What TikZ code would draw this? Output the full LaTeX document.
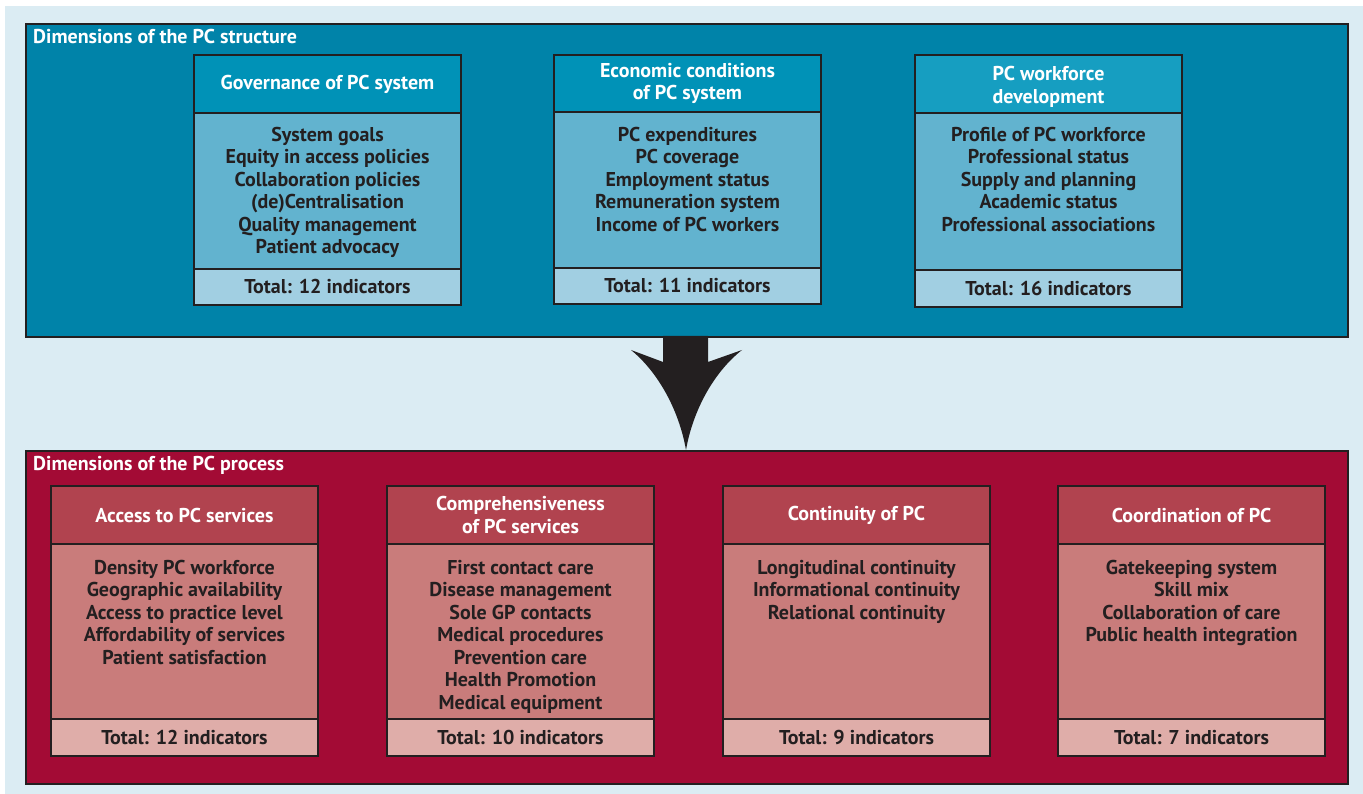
\documentclass[tikz,border=0pt]{standalone}
\usepackage{fontspec}
\setmainfont{PT Sans}
\definecolor{bgc}{HTML}{DBECF3}
\definecolor{edgec}{HTML}{231F20}
\definecolor{tout}{HTML}{0083A9}
\definecolor{thead}{HTML}{0092B7}
\definecolor{theadb}{HTML}{169EC1}
\definecolor{tbody}{HTML}{62B3CF}
\definecolor{tfoot}{HTML}{A1CFE2}
\definecolor{rout}{HTML}{A30B35}
\definecolor{rhead}{HTML}{B1434F}
\definecolor{rbody}{HTML}{C97C7B}
\definecolor{rfoot}{HTML}{DFADA9}
\tikzset{
  txtfont/.style={font=\fontsize{20}{22.5}\selectfont\bfseries},
  bx/.style={draw=edgec, line width=2pt, minimum width=267, anchor=north west,
             inner sep=0pt, align=center, txtfont},
  thd/.style={bx, fill=thead, text=white},
  tbd/.style={bx, fill=tbody},
  tft/.style={bx, fill=tfoot, text=edgec},
  rhd/.style={bx, fill=rhead, text=white},
  rbd/.style={bx, fill=rbody},
  rft/.style={bx, fill=rfoot, text=edgec},
  items/.style={anchor=north, inner sep=0pt, align=center, text=edgec, txtfont},
  hdtext/.style={inner sep=0pt, align=center, text=white, txtfont},
  outerbox/.style={draw=edgec, line width=2pt, anchor=north west, inner sep=0pt},
  title/.style={anchor=west, inner sep=0pt, text=white, txtfont}
}
\begin{document}
\begin{tikzpicture}[x=1pt,y=-1pt]
\useasboundingbox (0,0) rectangle (1363,794);
\fill[bgc] (5,6) rectangle (1363,794);

% ---------- structure ----------
\node[outerbox, fill=tout, minimum width=1322, minimum height=313] (struct) at (25,23) {};
\node[title] (structT) at (33,37) {Dimensions of the PC structure};

\node[thd, minimum height=58] (s1h) at (193,54) {Governance of PC system};
\node[tbd, minimum height=156] (s1b) at (193,112) {};
\node[tft, minimum height=36] (s1f) at (193,268) {Total: 12 indicators};
\node[items] (s1t) at ([yshift=-15]s1b.north) {System goals\\Equity in access policies\\Collaboration policies\\(de)Centralisation\\Quality management\\Patient advocacy};

\node[thd, minimum height=57] (s2h) at (553,54) {Economic conditions\\of PC system};
\node[tbd, minimum height=156] (s2b) at (553,111) {};
\node[tft, minimum height=36] (s2f) at (553,267) {Total: 11 indicators};
\node[items] (s2t) at ([yshift=-16]s2b.north) {PC expenditures\\PC coverage\\Employment status\\Remuneration system\\Income of PC workers};

\node[thd, fill=theadb, minimum height=58] (s3h) at (914,54) {};
\node[hdtext] (s3ht) at ([yshift=-3]s3h.center) {PC workforce\\development};
\node[tbd, minimum height=157] (s3b) at (914,112) {};
\node[tft, minimum height=37] (s3f) at (914,269) {Total: 16 indicators};
\node[items] (s3t) at ([yshift=-15]s3b.north) {Profile of PC workforce\\Professional status\\Supply and planning\\Academic status\\Professional associations};

% ---------- process ----------
\node[outerbox, fill=rout, minimum width=1322, minimum height=333] (proc) at (25,450) {};
\node[title] (procT) at (33,465) {Dimensions of the PC process};

\node[rhd, minimum height=58] (p1h) at (50,485) {Access to PC services};
\node[rbd, minimum height=175] (p1b) at (50,543) {};
\node[rft, minimum height=37] (p1f) at (50,718) {Total: 12 indicators};
\node[items] (p1t) at ([yshift=-17]p1b.north) {Density PC workforce\\Geographic availability\\Access to practice level\\Affordability of services\\Patient satisfaction};

\node[rhd, minimum height=58] (p2h) at (386,485) {Comprehensiveness\\of PC services};
\node[rbd, minimum height=175] (p2b) at (386,543) {};
\node[rft, minimum height=37] (p2f) at (386,718) {Total: 10 indicators};
\node[items] (p2t) at ([yshift=-17]p2b.north) {First contact care\\Disease management\\Sole GP contacts\\Medical procedures\\Prevention care\\Health Promotion\\Medical equipment};

\node[rhd, minimum height=58] (p3h) at (722,485) {Continuity of PC};
\node[rbd, minimum height=175] (p3b) at (722,543) {};
\node[rft, minimum height=37] (p3f) at (722,718) {Total: 9 indicators};
\node[items] (p3t) at ([yshift=-17]p3b.north) {Longitudinal continuity\\Informational continuity\\Relational continuity};

\node[rhd, minimum height=58] (p4h) at (1057,485) {Coordination of PC};
\node[rbd, minimum height=175] (p4b) at (1057,543) {};
\node[rft, minimum height=37] (p4f) at (1057,718) {Total: 7 indicators};
\node[items] (p4t) at ([yshift=-17]p4b.north) {Gatekeeping system\\Skill mix\\Collaboration of care\\Public health integration};

% ---------- arrow ----------
\coordinate (atop) at (686,336);
\coordinate (atip) at (proc.north -| atop);
\fill[edgec] ([xshift=-23]atop) -- ++(0,26) -- (631,350)
  .. controls (658,372) and (679,410) .. (atip)
  .. controls (693,410) and (714,372) .. (742,350)
  -- ([xshift=22,yshift=-26]atop) -- ([xshift=22]atop) -- cycle;
\end{tikzpicture}
\end{document}
